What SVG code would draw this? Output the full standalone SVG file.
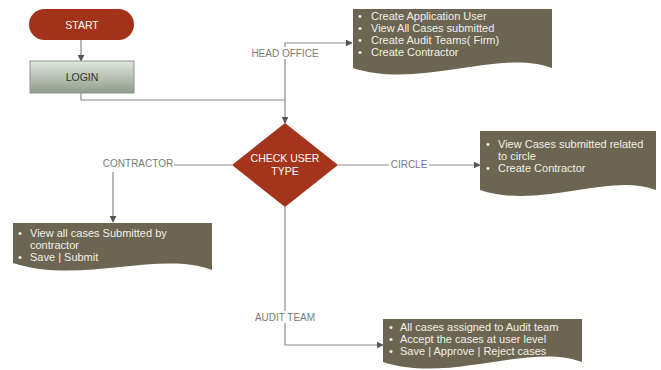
<svg xmlns="http://www.w3.org/2000/svg" width="661" height="370" viewBox="0 0 661 370">
<style>
.ln{fill:none;stroke:#8a8a8a;stroke-width:1.2}
.lbl{font-family:"Liberation Sans",Arial,sans-serif;font-size:10px;fill:#7a7a7a;text-anchor:middle}
.doc{fill:#6b6551}
.dt{font-family:"Liberation Sans",Arial,sans-serif;font-size:11px;fill:#f2f0e8}
.wt{font-family:"Liberation Sans",Arial,sans-serif;font-size:10.5px;fill:#ffffff;text-anchor:middle}
.lbg{fill:#ffffff}
</style>
<defs>
<marker id="ar" viewBox="0 0 10 10" refX="9" refY="5" markerWidth="7" markerHeight="7" markerUnits="userSpaceOnUse" orient="auto">
<path d="M0,0 L10,5 L0,10 Z" fill="#555"/>
</marker>
<linearGradient id="lg" x1="0" y1="0" x2="0" y2="1">
<stop offset="0" stop-color="#e2e7df"/>
<stop offset="1" stop-color="#8f9c8c"/>
</linearGradient>
</defs>
<rect width="661" height="370" fill="#ffffff"/>
<g id="connectors">
<path class="ln" d="M81,40 V61" marker-end="url(#ar)"/>
<path class="ln" d="M81,93 V100 H285 V123" marker-end="url(#ar)"/>
<path class="ln" d="M285,100 V43 H352" marker-end="url(#ar)"/>
<rect class="lbg" x="252" y="47" width="66" height="12"/>
<text class="lbl" x="285" y="57">HEAD OFFICE</text>
<path class="ln" d="M232,165 H113 V222" marker-end="url(#ar)"/>
<rect class="lbg" x="102" y="158" width="72" height="14"/>
<text class="lbl" x="138" y="167">CONTRACTOR</text>
<path class="ln" d="M338,165 H480" marker-end="url(#ar)"/>
<rect class="lbg" x="389" y="159" width="40" height="12"/>
<text class="lbl" x="409" y="168">CIRCLE</text>
<path class="ln" d="M285,207 V345 H383" marker-end="url(#ar)"/>
<rect class="lbg" x="253" y="311" width="65" height="12"/>
<text class="lbl" x="285" y="321">AUDIT TEAM</text>
</g>
<g id="start">
<rect x="29" y="9" width="105" height="31" rx="15.5" fill="#a3321a"/>
<text class="wt" x="82" y="29">START</text>
</g>
<g id="login">
<rect x="30" y="61" width="104" height="32" fill="url(#lg)" stroke="#8a968a" stroke-width="1"/>
<text x="82" y="81" font-family="'Liberation Sans',Arial,sans-serif" font-size="10.5" fill="#333" text-anchor="middle">LOGIN</text>
</g>
<g id="check">
<path d="M285,123 L338,165 L285,207 L232,165 Z" fill="#a5341c"/>
<text class="wt" x="285" y="162" font-size="10">CHECK USER</text>
<text class="wt" x="285" y="175" font-size="10">TYPE</text>
</g>
<g id="headoffice">
<path class="doc" d="M353,9 H552 V68 C500,48 420,90 353,68 Z"/>
<text class="dt"><tspan x="358" y="20">•</tspan><tspan x="371" y="20">Create Application User</tspan>
<tspan x="358" y="32">•</tspan><tspan x="371" y="32">View All Cases submitted</tspan>
<tspan x="358" y="44">•</tspan><tspan x="371" y="44">Create Audit Teams( Firm)</tspan>
<tspan x="358" y="56">•</tspan><tspan x="371" y="56">Create Contractor</tspan></text>
</g>
<g id="contractor">
<path class="doc" d="M13,223 H212 V270 C160,250 80,285 13,263 Z"/>
<text class="dt"><tspan x="18" y="237">•</tspan><tspan x="30" y="237">View all cases Submitted by</tspan>
<tspan x="30" y="249">contractor</tspan>
<tspan x="18" y="261">•</tspan><tspan x="30" y="261">Save | Submit</tspan></text>
</g>
<g id="circle">
<path class="doc" d="M480,131 H656 V190 C610,172 540,210 480,190 Z"/>
<text class="dt"><tspan x="486" y="148">•</tspan><tspan x="498" y="148">View Cases submitted related</tspan>
<tspan x="498" y="160">to circle</tspan>
<tspan x="486" y="172">•</tspan><tspan x="498" y="172">Create Contractor</tspan></text>
</g>
<g id="audit">
<path class="doc" d="M383,319 H582 V362 C530,342 450,384 383,362 Z"/>
<text class="dt"><tspan x="389" y="331">•</tspan><tspan x="400" y="331">All cases assigned to Audit team</tspan>
<tspan x="389" y="343">•</tspan><tspan x="400" y="343">Accept the cases at user level</tspan>
<tspan x="389" y="355">•</tspan><tspan x="400" y="355">Save | Approve | Reject cases</tspan></text>
</g>
</svg>
